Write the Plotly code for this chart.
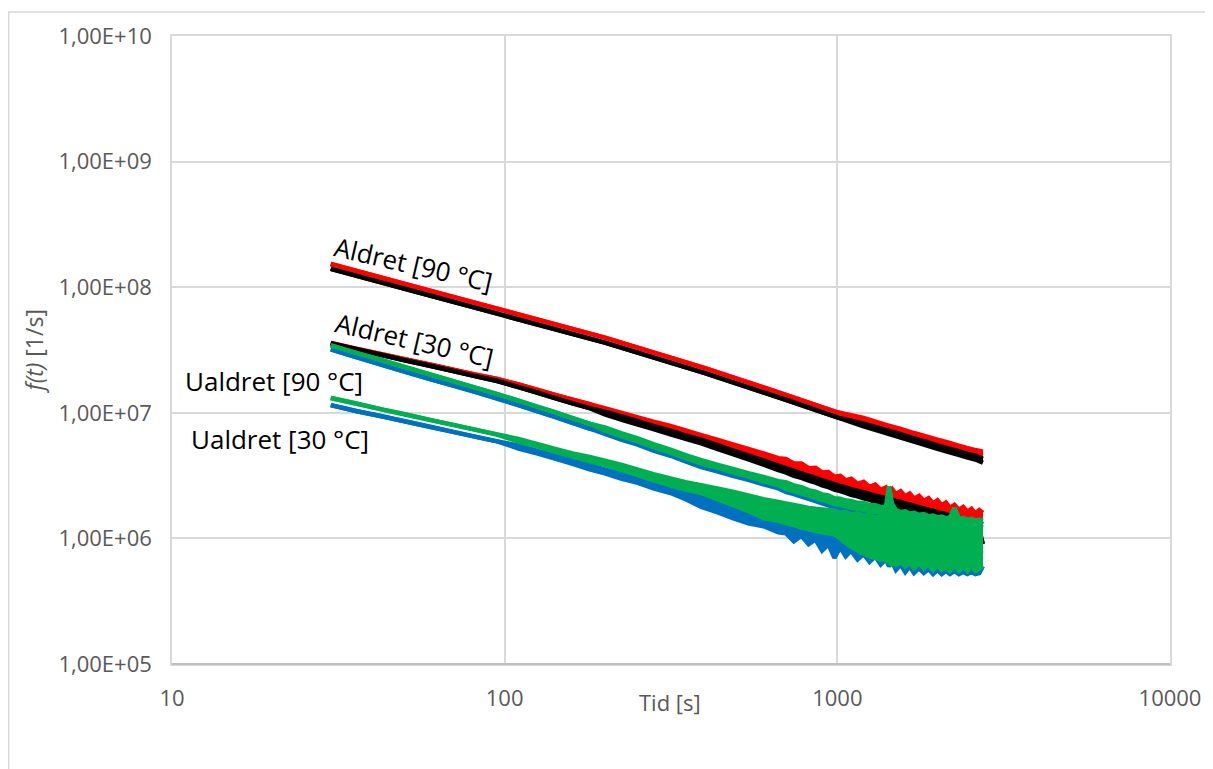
import plotly.graph_objects as go

# ---------------- data ----------------
# Each measured curve is given by the upper and lower edge of its (noisy) trace.
t_aged90 = [30, 60, 100, 200, 400, 700, 1000, 1200, 1400, 1550, 1700, 1850,
            2000, 2150, 2300, 2450, 2600, 2740]
aldret90_red_hi = [1.53e8, 9.35e7, 6.5e7, 3.97e7, 2.27e7, 1.39e7, 1.01e7, 9.1e6, 8.0e6,
                   7.45e6, 6.9e6, 6.5e6, 6.1e6, 5.8e6, 5.5e6, 5.25e6, 5.05e6, 4.9e6]
aldret90_red_lo = [1.53e8, 9.35e7, 6.5e7, 3.97e7, 2.27e7, 1.39e7, 1.01e7, 8.5e6, 7.55e6,
                   6.95e6, 6.45e6, 6.05e6, 5.68e6, 5.4e6, 5.1e6, 4.86e6, 4.7e6, 4.55e6]
aldret90_black_hi = [1.40e8, 8.55e7, 5.93e7, 3.62e7, 2.07e7, 1.27e7, 9.2e6, 8.2e6, 7.3e6,
                     6.75e6, 6.25e6, 5.88e6, 5.5e6, 5.23e6, 4.97e6, 4.72e6, 4.55e6, 4.3e6]
aldret90_black_lo = [1.40e8, 8.55e7, 5.93e7, 3.62e7, 2.07e7, 1.27e7, 9.2e6, 7.8e6, 6.9e6,
                     6.35e6, 5.9e6, 5.5e6, 5.17e6, 4.9e6, 4.65e6, 4.42e6, 4.25e6, 4.0e6]

t_meas = [30, 36, 43, 50, 60, 70, 82, 95, 110, 125, 140, 160, 180, 200, 225,
          250, 280, 315, 350, 390, 435, 485, 540, 600, 665, 700, 740, 780,
          820, 860, 900, 940, 980, 1020, 1060, 1100, 1150, 1200, 1250, 1300,
          1350, 1400, 1430, 1460, 1500, 1550, 1600, 1650, 1700, 1760, 1820,
          1880, 1940, 2000, 2060, 2120, 2180, 2250, 2320, 2390, 2460, 2530,
          2600, 2670, 2740]

aldret30_red_hi = [3.60e7, 3.23e7, 2.92e7, 2.67e7, 2.41e7, 2.20e7, 2.01e7, 1.86e7, 1.68e7, 1.53e7,
                   1.40e7, 1.27e7, 1.17e7, 1.09e7, 1.0e7, 9.25e6, 8.5e6, 7.85e6, 7.25e6, 6.65e6,
                   6.1e6, 5.6e6, 5.15e6, 4.75e6, 4.35e6, 4.3e6, 3.95e6, 3.95e6, 3.62e6, 3.65e6,
                   3.35e6, 3.38e6, 3.1e6, 3.15e6, 2.9e6, 2.98e6, 2.72e6, 2.82e6, 2.57e6, 2.68e6,
                   2.43e6, 2.55e6, 2.35e6, 2.48e6, 2.25e6, 2.38e6, 2.16e6, 2.28e6, 2.07e6, 2.18e6,
                   1.99e6, 2.09e6, 1.9e6, 2.01e6, 1.83e6, 1.93e6, 1.76e6, 1.85e6, 1.69e6, 1.78e6,
                   1.63e6, 1.72e6, 1.58e6, 1.68e6, 1.6e6]
aldret30_red_lo = [3.60e7, 3.23e7, 2.92e7, 2.67e7, 2.41e7, 2.20e7, 2.01e7, 1.86e7, 1.68e7, 1.53e7,
                   1.40e7, 1.27e7, 1.17e7, 1.05e7, 9.6e6, 8.8e6, 8.05e6, 7.35e6, 6.76e6, 6.2e6,
                   5.65e6, 5.12e6, 4.66e6, 4.24e6, 3.86e6, 3.7e6, 3.52e6, 3.36e6, 3.21e6, 3.09e6,
                   2.96e6, 2.86e6, 2.75e6, 2.62e6, 2.54e6, 2.47e6, 2.4e6, 2.33e6, 2.26e6, 2.19e6,
                   2.14e6, 2.09e6, 2.06e6, 2.03e6, 1.99e6, 1.95e6, 1.9e6, 1.86e6, 1.82e6, 1.77e6,
                   1.73e6, 1.69e6, 1.66e6, 1.62e6, 1.59e6, 1.56e6, 1.52e6, 1.49e6, 1.46e6, 1.43e6,
                   1.4e6, 1.37e6, 1.35e6, 1.32e6, 1.3e6]
aldret30_black_hi = [3.56e7, 3.19e7, 2.87e7, 2.62e7, 2.36e7, 2.15e7, 1.95e7, 1.79e7, 1.60e7, 1.45e7,
                     1.32e7, 1.19e7, 1.09e7, 1.02e7, 9.35e6, 8.6e6, 7.85e6, 7.2e6, 6.6e6, 6.1e6,
                     5.55e6, 5.02e6, 4.58e6, 4.18e6, 3.8e6, 3.63e6, 3.46e6, 3.3e6, 3.16e6, 3.03e6,
                     2.91e6, 2.8e6, 2.7e6, 2.62e6, 2.55e6, 2.47e6, 2.4e6, 2.33e6, 2.26e6, 2.2e6,
                     2.14e6, 2.09e6, 2.06e6, 2.03e6, 1.99e6, 1.95e6, 1.9e6, 1.86e6, 1.82e6, 1.77e6,
                     1.73e6, 1.69e6, 1.66e6, 1.62e6, 1.59e6, 1.56e6, 1.52e6, 1.49e6, 1.46e6, 1.43e6,
                     1.4e6, 1.37e6, 1.35e6, 1.32e6, 1.3e6]
aldret30_black_lo = [3.56e7, 3.19e7, 2.87e7, 2.62e7, 2.36e7, 2.15e7, 1.95e7, 1.79e7, 1.60e7, 1.45e7,
                     1.32e7, 1.19e7, 1.09e7, 9.7e6, 8.8e6, 8.1e6, 7.4e6, 6.75e6, 6.2e6, 5.7e6,
                     5.15e6, 4.68e6, 4.25e6, 3.86e6, 3.5e6, 3.35e6, 3.15e6, 3.03e6, 2.88e6, 2.78e6,
                     2.64e6, 2.56e6, 2.45e6, 2.38e6, 2.3e6, 2.22e6, 2.16e6, 2.08e6, 2.03e6, 1.95e6,
                     1.92e6, 1.85e6, 1.83e6, 1.8e6, 1.76e6, 1.72e6, 1.69e6, 1.63e6, 1.61e6, 1.55e6,
                     1.53e6, 1.48e6, 1.46e6, 1.42e6, 1.4e6, 1.36e6, 1.35e6, 1.31e6, 1.29e6, 1.26e6,
                     1.24e6, 1.21e6, 1.2e6, 1.17e6, 9.0e5]

ualdret_a_green_hi = [3.44e7, 2.99e7, 2.61e7, 2.32e7, 2.01e7, 1.79e7, 1.58e7, 1.41e7, 1.25e7, 1.12e7,
                      1.02e7, 9.06e6, 8.18e6, 7.65e6, 6.85e6, 6.28e6, 5.62e6, 5.1e6, 4.6e6, 4.2e6,
                      3.86e6, 3.58e6, 3.3e6, 3.08e6, 2.85e6, 2.8e6, 2.64e6, 2.56e6, 2.42e6, 2.36e6,
                      2.24e6, 2.2e6, 2.09e6, 2.07e6, 2.0e6, 1.99e6, 1.92e6, 1.91e6, 1.84e6, 1.84e6,
                      1.78e6, 1.79e6, 2.6e6, 1.9e6, 1.68e6, 1.62e6, 1.64e6, 1.58e6, 1.6e6, 1.54e6,
                      1.56e6, 1.5e6, 1.52e6, 1.47e6, 1.49e6, 1.45e6, 1.47e6, 1.75e6, 1.44e6, 1.45e6,
                      1.41e6, 1.43e6, 1.39e6, 1.41e6, 1.38e6]
ualdret_a_green_lo = [3.44e7, 2.99e7, 2.61e7, 2.32e7, 2.01e7, 1.79e7, 1.58e7, 1.41e7, 1.25e7, 1.12e7,
                      1.02e7, 9.06e6, 8.18e6, 7.25e6, 6.5e6, 5.95e6, 5.32e6, 4.82e6, 4.35e6, 3.95e6,
                      3.66e6, 3.36e6, 3.1e6, 2.86e6, 2.65e6, 2.48e6, 2.38e6, 2.28e6, 2.18e6, 2.1e6,
                      2.02e6, 1.95e6, 1.88e6, 1.84e6, 1.8e6, 1.75e6, 1.72e6, 1.68e6, 1.65e6, 1.62e6,
                      1.6e6, 1.57e6, 1.4e6, 6.0e5, 1.3e6, 1.25e6, 1.22e6, 1.18e6, 1.16e6, 1.12e6,
                      1.1e6, 1.08e6, 1.05e6, 1.03e6, 1.0e6, 9.8e5, 9.6e5, 9.5e5, 9.3e5, 9.2e5,
                      9.0e5, 8.9e5, 8.8e5, 8.7e5, 8.6e5]
ualdret_a_blue_hi = [3.2e7, 2.76e7, 2.40e7, 2.13e7, 1.85e7, 1.65e7, 1.46e7, 1.30e7, 1.15e7, 1.03e7,
                     9.35e6, 8.3e6, 7.5e6, 7.0e6, 6.3e6, 5.72e6, 5.12e6, 4.62e6, 4.15e6, 3.78e6,
                     3.5e6, 3.22e6, 3.0e6, 2.78e6, 2.6e6, 2.52e6, 2.4e6, 2.34e6, 2.22e6, 2.16e6,
                     2.06e6, 2.02e6, 1.95e6, 1.93e6, 1.9e6, 1.88e6, 1.86e6, 1.82e6, 1.8e6, 1.75e6,
                     1.72e6, 1.68e6, 1.62e6, 1.6e6, 1.56e6, 1.53e6, 1.5e6, 1.48e6, 1.46e6, 1.44e6,
                     1.42e6, 1.4e6, 1.38e6, 1.37e6, 1.35e6, 1.34e6, 1.32e6, 1.31e6, 1.3e6, 1.29e6,
                     1.28e6, 1.27e6, 1.26e6, 1.25e6, 1.22e6]
ualdret_a_blue_lo = [3.2e7, 2.76e7, 2.40e7, 2.13e7, 1.85e7, 1.65e7, 1.46e7, 1.30e7, 1.15e7, 1.03e7,
                     9.35e6, 8.3e6, 7.5e6, 6.8e6, 6.1e6, 5.6e6, 5.0e6, 4.55e6, 4.1e6, 3.7e6,
                     3.42e6, 3.15e6, 2.92e6, 2.7e6, 2.5e6, 2.35e6, 2.25e6, 2.15e6, 2.06e6, 1.98e6,
                     1.9e6, 1.83e6, 1.77e6, 1.72e6, 1.68e6, 1.64e6, 1.6e6, 1.56e6, 1.53e6, 1.5e6,
                     1.47e6, 1.44e6, 1.18e6, 1.15e6, 1.12e6, 1.1e6, 1.05e6, 1.04e6, 1.0e6, 9.8e5,
                     9.5e5, 9.4e5, 9.2e5, 9.0e5, 8.8e5, 8.7e5, 8.5e5, 8.4e5, 8.2e5, 8.1e5,
                     8.0e5, 7.9e5, 7.8e5, 7.7e5, 7.6e5]
ualdret_b_green_hi = [1.31e7, 1.18e7, 1.06e7, 9.73e6, 8.75e6, 8.02e6, 7.31e6, 6.71e6, 6.2e6, 5.65e6,
                      5.2e6, 4.75e6, 4.45e6, 4.15e6, 3.85e6, 3.55e6, 3.25e6, 3.0e6, 2.8e6, 2.65e6,
                      2.5e6, 2.35e6, 2.2e6, 2.05e6, 1.95e6, 1.9e6, 1.85e6, 1.8e6, 1.75e6, 1.72e6,
                      1.7e6, 1.68e6, 1.66e6, 1.6e6, 1.62e6, 1.55e6, 1.58e6, 1.5e6, 1.54e6, 1.46e6,
                      1.5e6, 1.44e6, 1.42e6, 1.48e6, 1.4e6, 1.46e6, 1.38e6, 1.45e6, 1.36e6, 1.44e6,
                      1.35e6, 1.42e6, 1.34e6, 1.4e6, 1.33e6, 1.4e6, 1.32e6, 1.38e6, 1.3e6, 1.38e6,
                      1.3e6, 1.36e6, 1.28e6, 1.35e6, 1.3e6]
ualdret_b_green_lo = [1.31e7, 1.18e7, 1.06e7, 9.73e6, 8.75e6, 8.02e6, 7.31e6, 6.71e6, 5.9e6, 5.4e6,
                      4.95e6, 4.5e6, 4.1e6, 3.85e6, 3.5e6, 3.2e6, 2.9e6, 2.65e6, 2.45e6, 2.3e6,
                      2.05e6, 1.85e6, 1.65e6, 1.45e6, 1.38e6, 1.32e6, 1.28e6, 1.22e6, 1.18e6, 1.15e6,
                      1.12e6, 1.1e6, 1.08e6, 1.0e6, 9.2e5, 8.6e5, 8.0e5, 7.6e5, 7.2e5, 7.0e5,
                      6.8e5, 6.7e5, 6.4e5, 6.6e5, 6.2e5, 6.5e5, 6.0e5, 6.4e5, 5.8e5, 6.3e5,
                      5.8e5, 6.2e5, 5.6e5, 6.2e5, 5.6e5, 6.0e5, 5.5e5, 6.1e5, 5.5e5, 6.0e5,
                      5.5e5, 6.0e5, 5.5e5, 5.8e5, 6.0e5]
ualdret_b_blue_hi = [1.15e7, 1.03e7, 9.35e6, 8.57e6, 7.71e6, 7.05e6, 6.43e6, 5.92e6, 5.5e6, 5.0e6,
                     4.6e6, 4.18e6, 3.85e6, 3.55e6, 3.25e6, 3.0e6, 2.75e6, 2.52e6, 2.35e6, 2.2e6,
                     2.0e6, 1.85e6, 1.72e6, 1.6e6, 1.5e6, 1.42e6, 1.38e6, 1.35e6, 1.3e6, 1.28e6,
                     1.25e6, 1.22e6, 1.2e6, 1.18e6, 1.16e6, 1.14e6, 1.12e6, 1.1e6, 1.08e6, 1.07e6,
                     1.06e6, 1.05e6, 1.04e6, 1.03e6, 1.02e6, 1.01e6, 1.0e6, 9.9e5, 9.8e5, 9.7e5,
                     9.6e5, 9.5e5, 9.4e5, 9.3e5, 9.2e5, 9.1e5, 9.0e5, 8.9e5, 8.8e5, 8.7e5,
                     8.6e5, 8.5e5, 8.4e5, 8.3e5, 8.2e5]
ualdret_b_blue_lo = [1.15e7, 1.03e7, 9.35e6, 8.57e6, 7.71e6, 7.05e6, 6.43e6, 5.92e6, 5.2e6, 4.75e6,
                     4.35e6, 3.92e6, 3.55e6, 3.3e6, 2.98e6, 2.78e6, 2.5e6, 2.3e6, 2.05e6, 1.78e6,
                     1.62e6, 1.45e6, 1.32e6, 1.25e6, 1.12e6, 1.1e6, 9.5e5, 1.05e6, 9.0e5, 9.8e5,
                     8.0e5, 9.0e5, 7.0e5, 8.5e5, 7.2e5, 8.0e5, 6.8e5, 7.5e5, 6.5e5, 7.2e5,
                     6.2e5, 6.8e5, 6.0e5, 6.5e5, 5.6e5, 6.2e5, 5.4e5, 6.0e5, 5.3e5, 5.8e5,
                     5.3e5, 5.7e5, 5.2e5, 5.6e5, 5.2e5, 5.5e5, 5.2e5, 5.5e5, 5.2e5, 5.4e5,
                     5.2e5, 5.4e5, 5.2e5, 5.3e5, 6.0e5]

x_tickvals = [10, 100, 1000, 10000]
x_ticktext = ["10", "100", "1000", "10000"]
y_tickvals = [1e5, 1e6, 1e7, 1e8, 1e9, 1e10]
y_ticktext = ["1,00E+05", "1,00E+06", "1,00E+07", "1,00E+08", "1,00E+09", "1,00E+10"]

labels = ["Aldret [90 °C]", "Aldret [30 °C]", "Ualdret [90 °C]", "Ualdret [30 °C]"]
x_title = "Tid [s]"
y_title = "<i>f(t)</i> [1/s]"

RED, BLACK, GREEN, BLUE = "#FF0000", "#000000", "#00B050", "#0070C0"
GRAY_TXT = "#595959"
FONT = "Open Sans"
LW = 4.5

# ---------------- figure ----------------
fig = go.Figure()
series = [
    (t_aged90, aldret90_red_hi, aldret90_red_lo, RED, "Aldret [90 °C] (1)"),
    (t_aged90, aldret90_black_hi, aldret90_black_lo, BLACK, "Aldret [90 °C] (2)"),
    (t_meas, aldret30_red_hi, aldret30_red_lo, RED, "Aldret [30 °C] (1)"),
    (t_meas, aldret30_black_hi, aldret30_black_lo, BLACK, "Aldret [30 °C] (2)"),
    (t_meas, ualdret_a_blue_hi, ualdret_a_blue_lo, BLUE, "Ualdret (1)"),
    (t_meas, ualdret_b_blue_hi, ualdret_b_blue_lo, BLUE, "Ualdret (2)"),
    (t_meas, ualdret_a_green_hi, ualdret_a_green_lo, GREEN, "Ualdret (3)"),
    (t_meas, ualdret_b_green_hi, ualdret_b_green_lo, GREEN, "Ualdret (4)"),
]
for xs, hi, lo, col, name in series:
    fig.add_trace(go.Scatter(x=xs, y=lo, mode="lines", name=name + " min",
                             line=dict(color=col, width=LW, simplify=False)))
    fig.add_trace(go.Scatter(x=xs, y=hi, mode="lines", name=name + " max",
                             fill="tonexty", fillcolor=col,
                             line=dict(color=col, width=LW, simplify=False)))

axis_common = dict(
    showgrid=True, gridcolor="#D9D9D9", gridwidth=1.5,
    showline=True, linecolor="#D9D9D9", linewidth=1.5, mirror=True,
    zeroline=False, ticks="",
    tickfont=dict(family=FONT, size=22, color=GRAY_TXT),
)
fig.update_xaxes(type="log", range=[1, 4], tickmode="array", ticklabelstandoff=14,
                 tickvals=x_tickvals, ticktext=x_ticktext, **axis_common)
fig.update_yaxes(type="log", range=[5, 10], tickmode="array", ticklabelstandoff=14,
                 tickvals=y_tickvals, ticktext=y_ticktext, **axis_common)

ann_font = dict(family=FONT, size=26, color="#000000")
annotations = [
    dict(text=labels[0], x=0.2415, y=0.637, textangle=13, font=ann_font),
    dict(text=labels[1], x=0.243, y=0.516, textangle=13, font=ann_font),
    dict(text=labels[2], x=0.1027, y=0.45, textangle=0, font=ann_font),
    dict(text=labels[3], x=0.1087, y=0.359, textangle=0, font=ann_font),
    dict(text=x_title, x=0.499, y=-0.060, textangle=0,
         font=dict(family=FONT, size=22, color=GRAY_TXT)),
    dict(text=y_title, x=-0.1383, y=0.4976, textangle=-90,
         font=dict(family=FONT, size=23, color=GRAY_TXT)),
]
for a in annotations:
    a.update(xref="paper", yref="paper", showarrow=False,
             xanchor="center", yanchor="middle")
fig.update_layout(annotations=annotations)

# page body has an 8 px margin: figure is 1205x761 placed at (8, 8)
fig.update_layout(
    width=1205, height=761,
    margin=dict(l=164, r=43, t=25, b=105),
    paper_bgcolor="white", plot_bgcolor="white",
    showlegend=False,
    shapes=[
        dict(type="rect", xref="paper", yref="paper",
             x0=-0.1636, x1=1.1, y0=-0.2, y1=1.0384,
             line=dict(color="#D9D9D9", width=1.5), layer="below"),
        dict(type="line", xref="paper", yref="paper", x0=0, x1=1, y0=0, y1=0,
             line=dict(color="#BFBFBF", width=2), layer="above"),
    ],
)

fig.write_html("out.html")
